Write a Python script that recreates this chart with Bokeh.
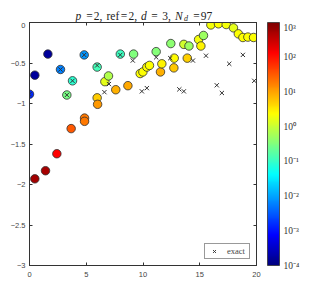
import numpy as np
from bokeh.plotting import figure
from bokeh.layouts import column
from bokeh.models import (LinearColorMapper, ColorBar, FixedTicker, LinearAxis,
                          ColumnDataSource, Range1d)
from bokeh.core.properties import value
from bokeh.embed import file_html
from bokeh.resources import INLINE

# ---- data ----
circ_x = [0.0, 0.47, 1.41, 0.47, 1.62, 2.41, 2.73, 3.29, 3.67, 3.79, 4.82, 4.85, 4.85,
          5.96, 5.96, 6.0, 6.64, 6.96, 7.6, 8.0, 8.67, 9.17, 9.75, 9.99, 10.34, 10.57,
          11.16, 11.54, 11.66, 12.45, 12.75, 12.72, 13.6, 14.05, 13.9, 14.9, 15.1, 15.33,
          15.98, 16.65, 17.33, 17.97, 18.4, 18.8, 19.24, 19.74]
circ_y = [-0.885, -0.65, -1.83, -1.93, -0.39, -1.62, -0.58, -0.895, -1.31, -0.72, -0.40,
          -1.18, -1.22, -0.55, -0.93, -1.01, -0.73, -0.66, -0.83, -0.39, -0.78, -0.39,
          -0.63, -0.61, -0.55, -0.53, -0.36, -0.61, -0.51, -0.26, -0.44, -0.56, -0.27,
          -0.29, -0.44, -0.21, -0.29, -0.16, -0.03, -0.016, -0.025, -0.066, -0.14, -0.185,
          -0.18, -0.185]
circ_logerr = [-2.85, -3.8, 2.7, 2.75, -3.8, 2.1, -2.25, -0.55, 1.5, -1.05, -2.1, 1.3, 1.3,
               -0.9, 0.72, 1.07, 0.2, -0.15, 0.9, -0.95, 0.95, -0.5, 0.35, 0.35, 0.35, 0.35,
               -0.45, 0.9, 0.45, -0.4, 0.4, 0.75, 0.05, -0.3, 0.7, 0.3, 0.45, -0.3,
               0.3, 0.35, 0.3, 0.2, 0.35, 0.35, 0.35, 0.35]

exact_x = [0.0, 2.73, 3.29, 3.79, 4.82, 5.96, 6.6, 7.0, 8.0, 9.1, 9.9, 10.34, 11.16, 12.4,
           13.2, 13.6, 14.4, 15.55, 16.5, 16.95, 17.6, 18.8, 19.8]
exact_y = [-0.885, -0.58, -0.895, -0.72, -0.40, -0.53, -0.86, -0.76, -0.40, -0.47, -0.85,
           -0.81, -0.43, -0.44, -0.825, -0.85, -0.47, -0.41, -0.775, -0.87, -0.51, -0.40,
           -0.72]

x_ticks = [0, 5, 10, 15, 20]
y_ticks = [0, -0.5, -1, -1.5, -2, -2.5, -3]
cbar_exps = [-4, -3, -2, -1, 0, 1, 2, 3]

# title: "p =2, ref=2, d = 3, N_d =97" as pieces
title_parts = ["p", "=", "2,", "ref", "=", "2,", "d", "=", "3,", "N", "d", "=", "97"]

# ---- jet palette ----
def jet(t):
    r = np.clip(1.5 - abs(4 * t - 3), 0, 1)
    g = np.clip(1.5 - abs(4 * t - 2), 0, 1)
    b = np.clip(1.5 - abs(4 * t - 1), 0, 1)
    return "#%02x%02x%02x" % (int(r * 255), int(g * 255), int(b * 255))

palette = [jet(t) for t in np.linspace(0, 1, 256)]
mapper = LinearColorMapper(palette=palette, low=-4, high=3)

serif = "Liberation Serif"
sans = "Liberation Sans"
FW, FH = 227, 243

p = figure(frame_width=FW, frame_height=FH, output_backend="svg", toolbar_location=None,
           x_range=Range1d(0, 20), y_range=Range1d(-3, 0),
           min_border_left=29, min_border_top=0, min_border_bottom=0, min_border_right=0)
p.background_fill_color = "white"
p.border_fill_color = "white"
p.outline_line_color = "#333333"
p.grid.visible = False

for ax in (p.xaxis[0], p.yaxis[0]):
    ax.major_tick_in = 3
    ax.major_tick_out = 0
    ax.minor_tick_line_color = None
    ax.major_label_text_font = sans
    ax.major_label_text_font_size = "7.5px"
    ax.major_label_text_color = "#444444"
    ax.axis_line_color = "#333333"
    ax.major_tick_line_color = "#333333"
    ax.major_label_standoff = 4
p.xaxis.major_label_standoff = 6
p.xaxis.ticker = FixedTicker(ticks=x_ticks)
p.yaxis.ticker = FixedTicker(ticks=y_ticks)

top = LinearAxis(ticker=FixedTicker(ticks=x_ticks),
                 major_label_overrides={t: "" for t in x_ticks},
                 major_tick_in=3, major_tick_out=0, minor_tick_line_color=None,
                 major_label_standoff=0, axis_line_color="#333333",
                 major_tick_line_color="#333333")
right = LinearAxis(ticker=FixedTicker(ticks=y_ticks),
                   major_label_overrides={t: "" for t in y_ticks},
                   major_tick_in=3, major_tick_out=0, minor_tick_line_color=None,
                   major_label_standoff=0, axis_line_color="#333333",
                   major_tick_line_color="#333333")
p.add_layout(top, "above")
p.add_layout(right, "right")

src = ColumnDataSource(dict(x=circ_x, y=circ_y, c=circ_logerr))
p.scatter("x", "y", source=src, size=8.5, fill_color={"field": "c", "transform": mapper},
          line_color="#303030", line_width=0.8)
p.scatter(exact_x, exact_y, marker="x", size=6, line_color="#333333", line_width=1,
          legend_label="exact")

leg = p.legend[0]
leg.location = "bottom_right"
leg.margin = 6
leg.padding = 2
leg.spacing = 0
leg.glyph_width = 14
leg.glyph_height = 10
leg.label_standoff = 6
leg.label_text_font = serif
leg.label_text_font_size = "8.5px"
leg.label_height = 10
leg.border_line_color = "#333333"
leg.border_line_width = 0.8

sup = {"-": "\u207b", "0": "\u2070", "1": "\u00b9", "2": "\u00b2", "3": "\u00b3", "4": "\u2074"}
cb = ColorBar(color_mapper=mapper, ticker=FixedTicker(ticks=cbar_exps),
              major_label_overrides={e: "10" + "".join(sup[ch] for ch in str(e)) for e in cbar_exps},
              width=12, height=FH, padding=0, margin=0, location=(11, 0),
              bar_line_color="#333333", bar_line_width=0.8,
              major_tick_line_color=None, label_standoff=4,
              major_label_text_font=serif, major_label_text_font_size="9.5px",
              major_label_text_color="#333333")
p.add_layout(cb, "right")

# ---- title strip (mixed italic / upright pieces) ----
t = figure(frame_width=FW, height=22, output_backend="svg", toolbar_location=None,
           x_range=p.x_range, y_range=Range1d(0, 1), x_axis_type=None, y_axis_type=None,
           min_border_left=29, min_border_right=0, min_border_top=0, min_border_bottom=0)
t.outline_line_color = None
t.grid.visible = False
x0 = 4.05
em = 11.4
# positions in em (Computer-Modern-like layout)
pos = [0.0, 1.225, 1.614, 2.725, 4.256, 4.645, 5.756, 6.943, 7.61, 8.721, 9.524, 10.61, 10.999]
aligns = ["left", "center", "left", "left", "center", "left", "left", "center", "left",
          "left", "left", "center", "left"]
styles = ["italic", "normal", "normal", "normal", "normal", "normal", "italic", "normal",
          "normal", "italic", "italic", "normal", "normal"]
dys = [0, 0, 0, 0, 0, 0, 0, 0, 0, 0, -2.5, 0, 0]
for txt, e, al, st, dy in zip(title_parts, pos, aligns, styles, dys):
    fs = "8px" if dy else "11.5px"
    t.text(x=[x0], y=[0.3], text=[txt], x_offset=e * em, y_offset=-dy,
           text_font=value(serif), text_font_style=value(st), text_font_size=value(fs),
           text_baseline="alphabetic", text_align=al, text_color="#222222")

layout = column(t, p, spacing=0)
open("out.html", "w").write(file_html(layout, INLINE))
